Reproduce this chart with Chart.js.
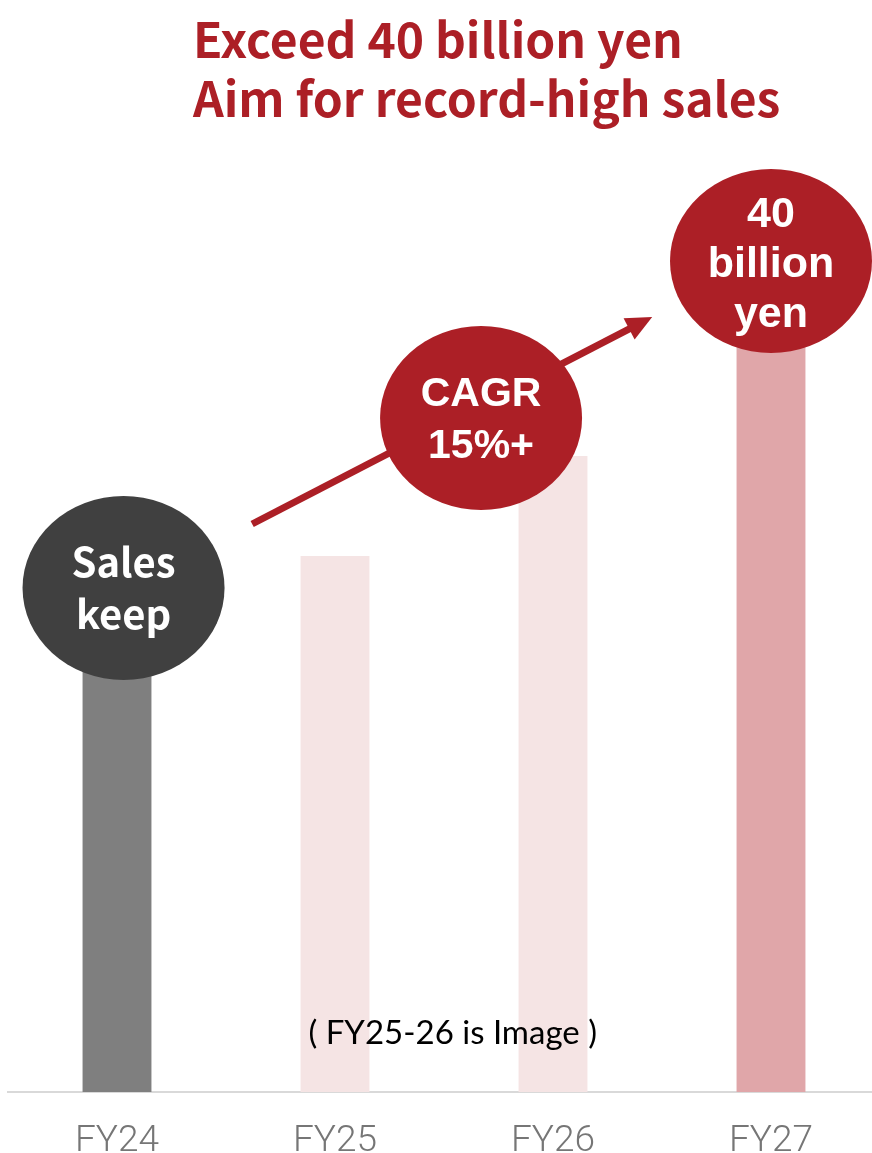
<!DOCTYPE html>
<html>
<head>
<meta charset="utf-8">
<script src="https://cdn.jsdelivr.net/npm/chart.js@4"></script>
<style>
  html, body { margin: 0; padding: 0; background: #fff; overflow: hidden; }
  #wrap { width: 872px; height: 1153px; overflow: hidden; }
</style>
</head>
<body>
<div id="wrap"><canvas id="myChart" width="880" height="1153"></canvas></div>
<script>
const years = ['FY24', 'FY25', 'FY26', 'FY27'];
const sales = [24.0, 26.8, 31.8, 40.0]; // billion yen, FY25-26 are image only
const barColors = ['#7f7f7f', '#f5e4e4', '#f5e4e4', '#e0a6a9'];
const titleLines = ['Exceed 40 billion yen', 'Aim for record-high sales'];

const RED = '#ac1f26';

// bubbles: x is category index (may be fractional), y is on the value axis
const bubbles = [
    { x: 0.03, y: 25.2, color: '#404040', lines: ['Sales', 'keep'], font: 'bold 40px "Noto Sans CJK JP"', gap: 52, dy: 0 },
    { x: 1.67, y: 33.7, color: RED, lines: ['CAGR', '15%+'], font: 'bold 41px "Liberation Sans"', gap: 52, dy: 3 },
    { x: 3.0, y: 41.55, color: RED, lines: ['40', 'billion', 'yen'], font: 'bold 43px "Liberation Sans"', gap: 50, dy: 4 },
];
const arrow = { from: [0.62, 28.4], to: [2.455, 38.75] };

const overlay = {
    id: 'overlay',
    afterDatasetsDraw(chart) {
        const ctx = chart.ctx;
        const xs = chart.scales.x, ys = chart.scales.y;
        const x0 = xs.getPixelForValue(0), x1 = xs.getPixelForValue(1);
        const px = i => x0 + i * (x1 - x0);

        // arrow
        const ax = px(arrow.from[0]), ay = ys.getPixelForValue(arrow.from[1]);
        const bx = px(arrow.to[0]), by = ys.getPixelForValue(arrow.to[1]);
        const ang = Math.atan2(by - ay, bx - ax);
        const head = 26;
        ctx.save();
        ctx.strokeStyle = RED;
        ctx.fillStyle = RED;
        ctx.lineWidth = 7;
        ctx.beginPath();
        ctx.moveTo(ax, ay);
        ctx.lineTo(bx - head * 0.8 * Math.cos(ang), by - head * 0.8 * Math.sin(ang));
        ctx.stroke();
        ctx.beginPath();
        ctx.moveTo(bx, by);
        ctx.lineTo(bx - head * Math.cos(ang) + 12 * Math.sin(ang), by - head * Math.sin(ang) - 12 * Math.cos(ang));
        ctx.lineTo(bx - head * Math.cos(ang) - 12 * Math.sin(ang), by - head * Math.sin(ang) + 12 * Math.cos(ang));
        ctx.closePath();
        ctx.fill();

        // bubbles
        bubbles.forEach(b => {
            const cx = px(b.x), cy = ys.getPixelForValue(b.y);
            ctx.fillStyle = b.color;
            ctx.beginPath();
            ctx.ellipse(cx, cy, 101, 92, 0, 0, Math.PI * 2);
            ctx.fill();
            ctx.fillStyle = '#ffffff';
            ctx.font = b.font;
            ctx.textAlign = 'center';
            ctx.textBaseline = 'middle';
            const start = cy + b.dy - (b.lines.length - 1) * b.gap / 2;
            b.lines.forEach((t, k) => ctx.fillText(t, cx, start + k * b.gap));
        });

        // note
        ctx.fillStyle = '#000000';
        ctx.font = '33px Lato';
        ctx.textAlign = 'center';
        ctx.fillText('( FY25-26 is Image )', px(1.54), ys.getPixelForValue(2.95));

        // heading
        ctx.fillStyle = RED;
        ctx.font = 'bold 48px "Noto Sans CJK JP"';
        ctx.textAlign = 'left';
        ctx.textBaseline = 'alphabetic';
        titleLines.forEach((t, k) => ctx.fillText(t, 193, 58 + k * 59));
        ctx.restore();
    }
};

const ctx = document.getElementById('myChart').getContext('2d');
const myChart = new Chart(ctx, {
    type: 'bar',
    data: {
        labels: years,
        datasets: [{
            data: sales,
            backgroundColor: barColors,
            barPercentage: 0.316,
            categoryPercentage: 1,
        }],
    },
    options: {
        responsive: false,
        animation: false,
        layout: { padding: { top: 92, left: 8, right: 0, bottom: 0 } },
        plugins: {
            legend: { display: false },
            tooltip: { enabled: false },
        },
        scales: {
            x: {
                grid: { display: false },
                border: { display: true, color: '#d9d9d9', width: 2 },
                ticks: {
                    color: '#767676',
                    padding: 23,
                    font: { family: 'Roboto', weight: 300, size: 37, lineHeight: 1 },
                },
                afterFit: s => { s.height = 61; },
            },
            y: {
                display: false,
                min: 0,
                max: 50,
            },
        },
    },
    plugins: [overlay],
});
</script>
</body>
</html>
